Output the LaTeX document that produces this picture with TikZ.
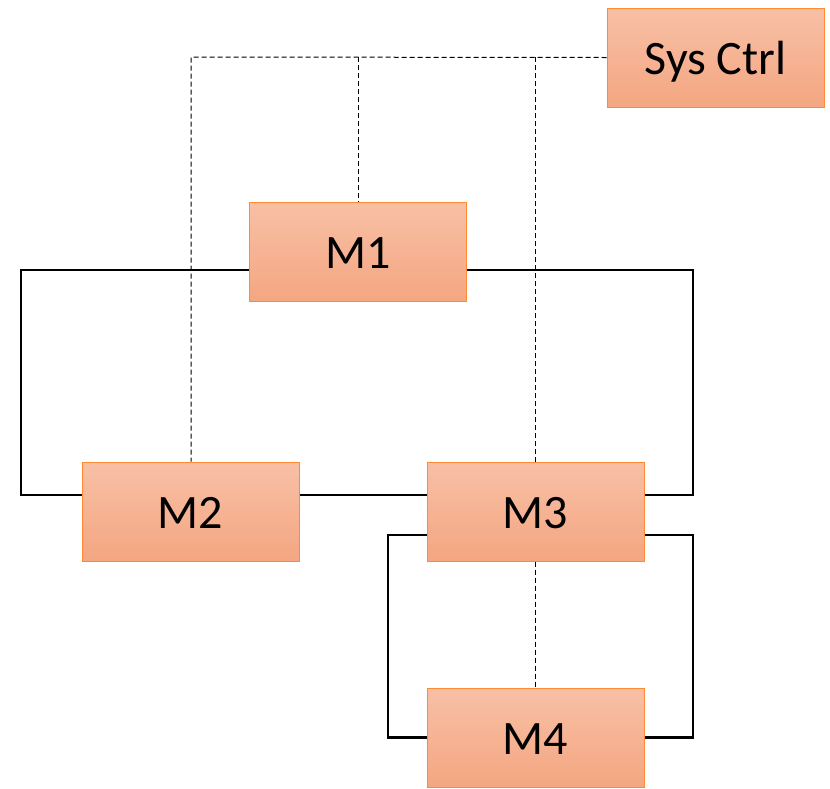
\documentclass[tikz,border=0pt]{standalone}
\usepackage{fontspec}
\setmainfont{Carlito}

\begin{document}
\begin{tikzpicture}[x=1pt,y=-1pt,
		module/.style={rectangle,draw=orange!85!red!80!white,line width=1pt,
			top color=mpeachtop,bottom color=mpeachbot,
			minimum width=217pt,minimum height=99pt,inner sep=0pt,
			text height=35pt,text depth=2pt,
			font=\fontsize{48}{56}\selectfont},
		bus/.style={line width=2.4pt},
		ctrl/.style={line width=1pt,dash pattern=on 5pt off 3pt}]
		\definecolor{mpeachtop}{RGB}{248,192,166}
		\definecolor{mpeachbot}{RGB}{244,166,129}
		\useasboundingbox (0,0) rectangle (830,788);
		\node[module] (sys) at (715.5,57.5) {Sys Ctrl};
		\node[module] (m1) at (358,251.5) {M1};
		\node[module] (m2) at (190.5,511.5) {M2};
		\node[module] (m3) at (535.5,511.5) {M3};
		\node[module] (m4) at (535.5,737.5) {M4};
		
		% outer ring
		\coordinate (la) at (21,495);
		\coordinate (ra) at (693,495);
		\draw[bus] ([yshift=-18.5pt]m1.west) -| (la) -- ([yshift=16.5pt]m2.west);
		\draw[bus] ([yshift=-18.5pt]m1.east) -| (ra) -- ([yshift=16.5pt]m3.east);
		\draw[bus] ([yshift=16.5pt]m2.east) -- ([yshift=16.5pt]m3.west);
		% lower ring
		\coordinate (lb) at (388,737.5);
		\coordinate (rb) at (693,737.5);
		\draw[bus] ([yshift=-23.5pt]m3.west) -| (lb) -- (m4.west);
		\draw[bus] ([yshift=-23.5pt]m3.east) -| (rb) -- (m4.east);
		
		% control lines
		\coordinate (c2) at (191,57);
		\coordinate (c1) at (358,57);
		\coordinate (c3) at (535,57);
		\draw[ctrl] (sys.west) -- (c2) -- ([xshift=0.5pt]m2.north);
		\draw[ctrl] (c1) -- (m1.north);
		\draw[ctrl] (c3) -- ([xshift=-0.5pt]m3.north);
		\draw[ctrl] ([xshift=-0.5pt]m3.south) -- ([xshift=-0.5pt]m4.north);
\end{tikzpicture}
\end{document}
